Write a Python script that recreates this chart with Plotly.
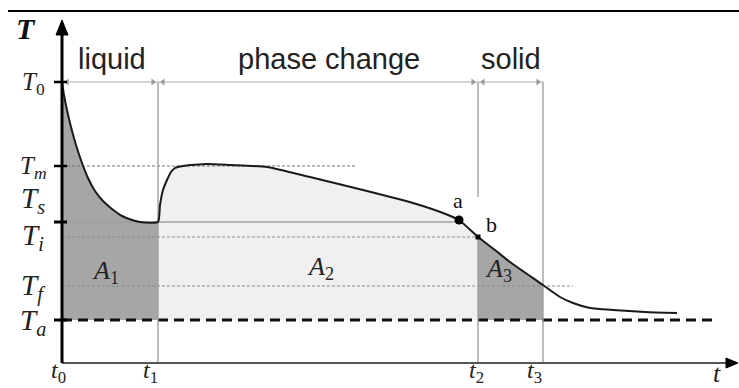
import plotly.graph_objects as go
import numpy as np

# Characteristic temperatures (arbitrary units)
T0, Tm, Ts, Ti, Tf, Ta = 28.1, 19.7, 14.1, 12.6, 7.7, 4.3
# Characteristic times
t0, t1, t2, t3 = 0.0, 9.6, 41.6, 48.1

# Cooling curve: time and temperature
time_pts = [0.0, 0.2, 0.5, 0.9, 1.4, 2.0, 2.6, 3.3, 4.1, 5.0, 6.0, 7.0, 7.8,
            9.6, 9.8, 10.1, 10.5, 10.9, 11.3, 12.1, 14.5, 16.8, 20.5, 24.8,
            30.1, 35.1, 38.1, 39.7, 41.6, 43.3, 44.8, 48.1, 49.8, 51.1, 52.8,
            55.1, 58.3, 61.5]
temp_pts = [28.1, 26.8, 25.3, 23.6, 21.8, 20.0, 18.5, 17.2, 16.2, 15.4, 14.7,
            14.3, 14.1, 14.1, 15.8, 17.3, 18.3, 19.1, 19.5, 19.7, 19.9, 19.8,
            19.6, 18.6, 17.3, 16.0, 15.0, 14.3, 12.6, 11.3, 10.1, 7.8, 6.6,
            6.0, 5.5, 5.3, 5.1, 5.0]

# Marked points on the curve
point_a = (39.7, 14.3)
point_b = (41.6, 12.6)

# Line extents along the time axis
tm_line_end = 29.3
tf_line_end = 51.1
ta_line_end = 65.0
t2_gap_top = 16.6
x_axis_end = 67.6
y_axis_top = 34.3
frame_level = 35.2
frame_x = (-5.4, 67.7)

phase_labels = ["liquid", "phase change", "solid"]
level_labels = ["<i>T</i><sub>0</sub>", "<i>T</i><sub><i>m</i></sub>",
                "<i>T</i><sub><i>s</i></sub>", "<i>T</i><sub><i>i</i></sub>",
                "<i>T</i><sub><i>f</i></sub>", "<i>T</i><sub><i>a</i></sub>"]
time_labels = ["<i>t</i><sub>0</sub>", "<i>t</i><sub>1</sub>",
               "<i>t</i><sub>2</sub>", "<i>t</i><sub>3</sub>"]
area_labels = ["<i>A</i><sub>1</sub>", "<i>A</i><sub>2</sub>", "<i>A</i><sub>3</sub>"]

tt = np.array(time_pts)
TT = np.array(temp_pts)

DARK = "#a6a6a6"
LIGHT = "#f0f0f0"
GRID = "#a0a0a0"
SERIF = "Liberation Serif"
SANS = "Liberation Sans"

fig = go.Figure()


def region(lo, hi, color):
    m = (tt >= lo - 1e-9) & (tt <= hi + 1e-9)
    xs = list(tt[m]) + [hi, lo]
    ys = list(TT[m]) + [Ta, Ta]
    fig.add_trace(go.Scatter(x=xs, y=ys, fill="toself", fillcolor=color,
                             mode="none", hoverinfo="skip"))


# Shaded areas A1, A2, A3
region(t0, t1, DARK)
region(t1, t2, LIGHT)
region(t2, t3, DARK)


def seg(xs, ys, color, width, dash="solid"):
    fig.add_trace(go.Scatter(x=xs, y=ys, mode="lines",
                             line=dict(color=color, width=width, dash=dash),
                             hoverinfo="skip"))


# Reference temperature levels
seg([t0, t3], [T0, T0], "#b0b0b0", 1.2)
seg([t0, tm_line_end], [Tm, Tm], "#707070", 1.2, "3px,2px")
seg([t0, point_a[0]], [Ts, Ts], "#a0a0a0", 1.3)
seg([t0, point_b[0]], [Ti, Ti], "#8a8a8a", 1.2, "3px,2px")
seg([t0, tf_line_end], [Tf, Tf], "#8a8a8a", 1.2, "3px,2px")
seg([t0, ta_line_end], [Ta, Ta], "#111111", 3, "10px,6px")

# Phase range arrowheads along the T0 line
for a, b in [(t0, t1), (t1, t2), (t2, t3)]:
    fig.add_trace(go.Scatter(x=[a + 0.5, b - 0.5], y=[T0, T0], mode="markers",
                             marker=dict(color="#999999", size=6,
                                         symbol=["triangle-left", "triangle-right"]),
                             hoverinfo="skip"))

# Vertical time markers
seg([t1, t1], [0, T0], GRID, 1.4)
seg([t2, t2, None, t2, t2], [T0, t2_gap_top, None, Ti, 0], GRID, 1.4)
seg([t3, t3], [0, T0], GRID, 1.4)

# Cooling curve
fig.add_trace(go.Scatter(x=time_pts, y=temp_pts, mode="lines",
                         line=dict(color="#1a1a1a", width=2, shape="spline",
                                   smoothing=0.5),
                         hoverinfo="skip"))

# Points a and b
fig.add_trace(go.Scatter(x=[point_a[0]], y=[point_a[1]], mode="markers",
                         marker=dict(color="black", size=9), hoverinfo="skip"))
fig.add_trace(go.Scatter(x=[point_b[0]], y=[point_b[1]], mode="markers",
                         marker=dict(color="black", size=5, symbol="square"),
                         hoverinfo="skip"))

# Axes
seg([t0, x_axis_end - 1.0], [0, 0], "#555555", 2)
seg([t0, t0], [0, y_axis_top - 1.2], "#000000", 3)
fig.add_trace(go.Scatter(x=[x_axis_end, x_axis_end - 1.2, x_axis_end - 1.2, x_axis_end],
                         y=[0, 0.5, -0.5, 0], fill="toself", fillcolor="black",
                         mode="lines", line=dict(color="black", width=1),
                         hoverinfo="skip"))
fig.add_trace(go.Scatter(x=[t0, -0.6, 0.6, t0],
                         y=[y_axis_top, y_axis_top - 1.5, y_axis_top - 1.5, y_axis_top],
                         fill="toself", fillcolor="black", mode="lines",
                         line=dict(color="black", width=1), hoverinfo="skip"))

# Axis ticks at the main levels
for lvl, w in [(T0, 2.5), (Tm, 2.5), (Ts, 3), (Ta, 3)]:
    seg([-0.8, 0.5], [lvl, lvl], "#000000", w)

# Top frame rule
seg(list(frame_x), [frame_level, frame_level], "#000000", 2)

annotations = []

# Phase names
for lab, xc in zip(phase_labels, [(t0 + t1) / 2 + 0.2, 26.7, (t2 + t3) / 2]):
    annotations.append(dict(x=xc, y=30.4, text=lab, showarrow=False,
                            font=dict(family=SANS, size=29, color="#222222")))

# Temperature level labels
for lab, yc, sz in zip(level_labels, [28.0, 19.6, 16.3, 12.6, 7.6, 4.1],
                       [25, 25, 29, 29, 29, 29]):
    annotations.append(dict(x=-2.9, y=yc, text=lab, showarrow=False,
                            font=dict(family=SERIF, size=sz, color="#222222")))

# Time labels
for lab, xc in zip(time_labels, [t0 - 0.4, t1 - 0.8, t2 - 0.2, t3 - 0.9]):
    annotations.append(dict(x=xc, y=-0.85, text=lab, showarrow=False,
                            font=dict(family=SERIF, size=24, color="#222222")))
annotations.append(dict(x=65.5, y=-1.05, text="<i>t</i>", showarrow=False,
                        font=dict(family=SERIF, size=26, color="#222222")))
annotations.append(dict(x=-3.6, y=33.5, text="<b><i>T</i></b>", showarrow=False,
                        font=dict(family=SERIF, size=30, color="#111111")))

# Area labels
for lab, xc, yc in zip(area_labels, [4.3, 25.8, 43.6], [9.1, 9.5, 9.3]):
    annotations.append(dict(x=xc, y=yc, text=lab, showarrow=False,
                            font=dict(family=SERIF, size=26, color="#222222")))

# Point labels
annotations.append(dict(x=point_a[0] - 0.1, y=16.3, text="a", showarrow=False,
                        font=dict(family=SERIF, size=22, color="#111111")))
annotations.append(dict(x=point_b[0] + 1.3, y=13.9, text="b", showarrow=False,
                        font=dict(family=SERIF, size=22, color="#111111")))

fig.update_layout(
    width=739, height=388,
    margin=dict(l=0, r=0, t=0, b=0),
    paper_bgcolor="white", plot_bgcolor="white",
    showlegend=False,
    xaxis=dict(visible=False, range=[-6.2, 67.7], fixedrange=True),
    yaxis=dict(visible=False, range=[-2.5, 36.3], fixedrange=True),
    annotations=annotations,
)

fig.write_html("out.html")
